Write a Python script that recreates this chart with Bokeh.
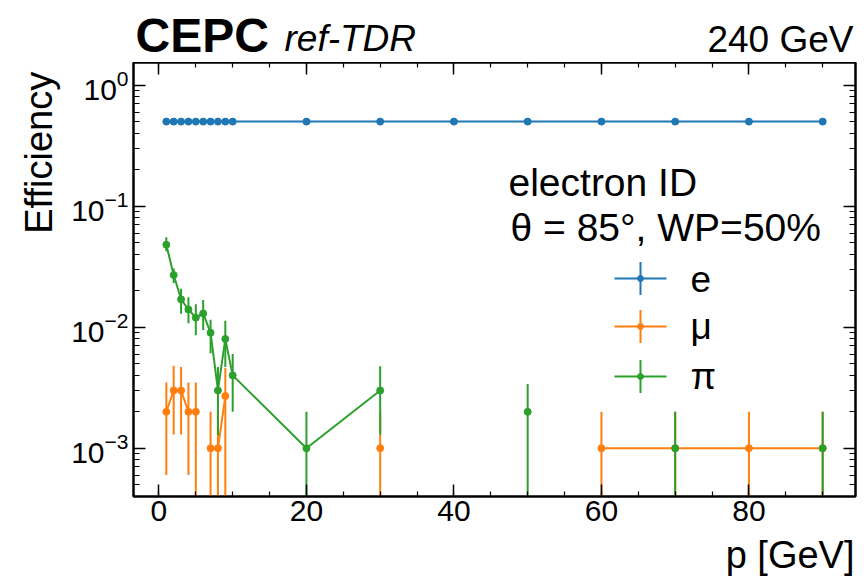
import numpy as np
from bokeh.plotting import figure
from bokeh.layouts import column
from bokeh.models import (ColumnDataSource, Range1d, LinearAxis, LogAxis, Label, Whisker,
                          BoxAnnotation, SingleIntervalTicker, LogTicker, CustomJSTickFormatter)
from bokeh.embed import file_html
from bokeh.resources import INLINE

nan = float("nan")

# ---------------- data ----------------
p_gev = [1, 2, 3, 4, 5, 6, 7, 8, 9, 10, 20, 30, 40, 50, 60, 70, 80, 90]

e_eff = [0.5] * 18
e_lo = [0.484] * 18
e_hi = [0.516] * 18

mu_eff = [0.002, 0.003, 0.003, 0.002, 0.002, nan, 0.001, 0.001, 0.0027, nan, nan, 0.001, nan, nan, 0.001, 0.001, 0.001, 0.001]
mu_lo = [0.0006, 0.0013, 0.0013, 0.0006, 0.0, nan, 0.0, 0.0, 0.0, nan, nan, 0.0, nan, nan, 0.0, 0.0, 0.0, 0.0]
mu_hi = [0.0035, 0.0048, 0.0047, 0.0035, 0.0035, nan, 0.002, 0.002, 0.0046, nan, nan, 0.002, nan, nan, 0.002, 0.002, 0.002, 0.002]

pi_eff = [0.048, 0.027, 0.017, 0.014, 0.012, 0.013, 0.009, 0.003, 0.008, 0.004, 0.001, 0.003, nan, 0.002, nan, 0.001, nan, 0.001]
pi_lo = [0.0425, 0.0232, 0.0129, 0.0108, 0.0086, 0.0095, 0.0061, 0.00128, 0.0047, 0.0020, 0.0, 0.0013, nan, 0.0, nan, 0.0, nan, 0.0]
pi_hi = [0.0555, 0.0305, 0.0208, 0.0177, 0.0155, 0.0168, 0.0115, 0.0047, 0.0113, 0.0060, 0.002, 0.00475, nan, 0.0034, nan, 0.002, nan, 0.002]

series = [
    ("e", e_eff, e_lo, e_hi, "#1f77b4"),
    ("μ", mu_eff, mu_lo, mu_hi, "#ff7f0e"),
    ("π", pi_eff, pi_lo, pi_hi, "#2ca02c"),
]

X_RANGE = (-3.45, 94.45)
Y_RANGE = (3.99e-4, 1.54)

FONT = "Liberation Sans"
W = 864
H_HEAD = 62
H_MAIN = 578 - H_HEAD
TXT_DY = 13  # empirical baseline correction for Label
NBSP = "\u00a0"

# ---------------- header (experiment / energy) ----------------
# its frame is aligned with the main frame (left edge at x=133)
head = figure(width=W, height=H_HEAD, x_range=Range1d(0, 1), y_range=Range1d(0, 1),
              output_backend="svg", toolbar_location=None, min_border=0,
              background_fill_color="white", border_fill_color="white")
head.axis.visible = False
head.grid.visible = False
head.outline_line_color = None


def hlab(text, x_canvas, y_top, size, align="left", style="normal"):
    head.add_layout(Label(text=text, x=x_canvas - 133,
                          y=H_HEAD - y_top + TXT_DY * int(size[:-2]) / 38.0,
                          x_units="screen", y_units="screen",
                          text_font=FONT, text_font_size=size, text_font_style=style,
                          text_align=align, text_baseline="alphabetic", text_color="black"))


hlab("CEPC", 135, 51, "48px", style="bold")
hlab("ref-TDR", 284, 51, "37px", style="italic")
hlab("240 GeV", 853, 52, "37px", align="right")

# ---------------- main plot ----------------
p = figure(width=W, height=H_MAIN, x_range=Range1d(*X_RANGE), y_range=Range1d(*Y_RANGE),
           y_axis_type="log", output_backend="svg", toolbar_location=None,
           min_border_left=133, min_border_right=9, min_border_top=0, min_border_bottom=82,
           background_fill_color="white", border_fill_color="white")
p.grid.visible = False
p.outline_line_color = "black"
p.outline_line_width = 2

for name, eff, lo, hi, col in series:
    x = np.array(p_gev, dtype=float)
    y = np.array(eff, dtype=float)
    l = np.array(lo, dtype=float)
    h = np.array(hi, dtype=float)
    ok = np.isfinite(y)
    l = np.maximum(l, Y_RANGE[0] * 0.5)
    src_line = ColumnDataSource(dict(x=x, y=y))
    src_pts = ColumnDataSource(dict(x=x[ok], y=y[ok], lo=l[ok], hi=h[ok]))
    p.line("x", "y", source=src_line, line_color=col, line_width=2)
    p.segment(x0="x", y0="lo", x1="x", y1="hi", source=src_pts, line_color=col, line_width=2)
    p.scatter("x", "y", source=src_pts, size=7, fill_color=col, line_color=col)

# ---------------- axes ----------------
bottom = p.below[0]
left = p.left[0]
bottom.ticker = SingleIntervalTicker(interval=20, num_minor_ticks=4)
left.ticker = LogTicker(num_minor_ticks=10)

top = LinearAxis(ticker=SingleIntervalTicker(interval=20, num_minor_ticks=4),
                 formatter=CustomJSTickFormatter(code="return ''"))
right = LogAxis(ticker=LogTicker(num_minor_ticks=10),
                formatter=CustomJSTickFormatter(code="return ''"))
p.add_layout(top, "above")
p.add_layout(right, "right")

for ax in [bottom, top]:
    ax.minor_tick_in = 5
for ax in [left, right]:
    ax.minor_tick_in = 6

for ax in [bottom, left, top, right]:
    ax.major_tick_in = 12
    ax.major_tick_out = 0
    ax.minor_tick_out = 0
    ax.axis_line_width = 2
    ax.axis_line_color = "black"
    ax.major_tick_line_color = "black"
    ax.minor_tick_line_color = "black"
    ax.major_tick_line_width = 1.5
    ax.minor_tick_line_width = 1.2
    ax.major_label_text_font = FONT
    ax.major_label_text_color = "black"

for ax in [top, right]:
    ax.major_label_text_font_size = "0px"
    ax.major_label_standoff = 0

bottom.major_label_text_font_size = "30px"
bottom.major_label_standoff = 4
left.major_label_text_font_size = "30px"
left.major_label_standoff = 5

# axis labels are centred by Bokeh; leading no-break spaces push them to the axis end
bottom.axis_label = NBSP * 56 + "p [GeV]"
bottom.axis_label_standoff = 10
left.axis_label = NBSP * 24 + "Efficiency"
left.axis_label_standoff = 8
for ax in [bottom, left]:
    ax.axis_label_text_font = FONT
    ax.axis_label_text_font_size = "38px"
    ax.axis_label_text_font_style = "normal"
    ax.axis_label_text_color = "black"


# ---------------- in-frame texts (frame-relative screen coords) ----------------
def lab(text, x, y, size):
    p.add_layout(Label(text=text, x=x, y=y + TXT_DY, x_units="screen", y_units="screen",
                       text_font=FONT, text_font_size=size, text_align="left",
                       text_baseline="alphabetic", text_color="black"))


lab("electron ID", 375, 301, "39px")
lab("θ = 85°, WP=50%", 377, 256, "39px")

# ---------------- legend (manual) ----------------
leg_x0, leg_x1, leg_xc = 481, 533, 507
leg_y = [218, 170, 120]
for (name, eff, lo, hi, col), yc in zip(series, leg_y):
    p.add_layout(Whisker(source=ColumnDataSource(dict(b=[yc], l=[leg_x0], u=[leg_x1])),
                         base="b", lower="l", upper="u", dimension="width",
                         base_units="screen", lower_units="screen", upper_units="screen",
                         upper_head=None, lower_head=None, line_color=col, line_width=2))
    p.add_layout(Whisker(source=ColumnDataSource(dict(b=[leg_xc], l=[yc - 16.5], u=[yc + 16.5])),
                         base="b", lower="l", upper="u", dimension="height",
                         base_units="screen", lower_units="screen", upper_units="screen",
                         upper_head=None, lower_head=None, line_color=col, line_width=2))
    p.add_layout(BoxAnnotation(left=leg_xc - 3, right=leg_xc + 3, bottom=yc - 3, top=yc + 3,
                               left_units="screen", right_units="screen",
                               top_units="screen", bottom_units="screen",
                               fill_color=col, fill_alpha=1, line_color=col, line_alpha=1,
                               border_radius=3))
    lab(name, 557, yc - 13, "37px")

layout = column(head, p, spacing=0)
open("out.html", "w").write(file_html(layout, INLINE))
